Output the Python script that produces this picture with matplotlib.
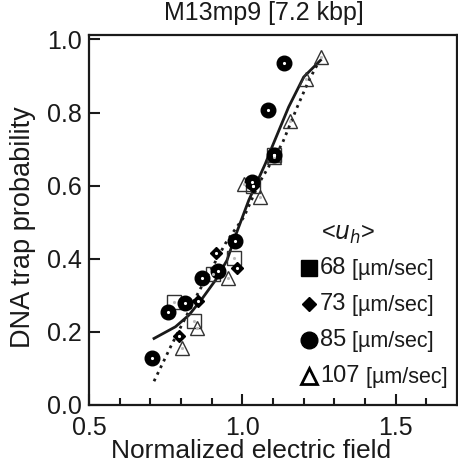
"""DNA trap probability vs normalized electric field for M13mp9."""

import matplotlib.pyplot as plt
import numpy as np

plt.rcParams["font.family"] = ["Liberation Sans", "DejaVu Sans"]

# Measured points, one set per flow speed <u_h>
sq_x = [0.777, 0.842, 0.904, 0.972, 1.035, 1.103]
sq_y = [0.282, 0.230, 0.358, 0.401, 0.600, 0.683]

dia_x = [0.795, 0.856, 0.915, 0.981, 1.035, 1.103]
dia_y = [0.189, 0.285, 0.417, 0.374, 0.600, 0.685]

circ_x = [0.704, 0.758, 0.813, 0.867, 0.921, 0.975, 1.030, 1.103, 1.084, 1.137]
circ_y = [0.128, 0.255, 0.278, 0.346, 0.367, 0.449, 0.610, 0.683, 0.808, 0.936]

tri_x = [0.804, 0.853, 0.954, 1.005, 1.056, 1.103, 1.154, 1.206, 1.258]
tri_y = [0.155, 0.211, 0.346, 0.605, 0.569, 0.678, 0.777, 0.892, 0.951]

# Fitted curves
fit_x = [0.712, 0.782, 0.826, 0.869, 0.913, 0.950, 0.978, 1.021, 1.075, 1.097, 1.151, 1.200, 1.255]
fit_y = [0.182, 0.214, 0.246, 0.291, 0.342, 0.396, 0.464, 0.560, 0.660, 0.706, 0.815, 0.897, 0.943]

lin_x = [0.712, 0.766, 0.858, 0.945, 0.967, 1.005, 1.054, 1.130, 1.179, 1.217, 1.249]
lin_y = [0.065, 0.159, 0.310, 0.442, 0.469, 0.514, 0.606, 0.715, 0.815, 0.888, 0.938]

speeds = ["68", "73", "85", "107"]

ink = "#1a1a1a"

fig = plt.figure(figsize=(4.58, 4.70), dpi=100)
ax = fig.add_axes([89 / 458, 65 / 470, 368 / 458, 370 / 470])

# Curves first, markers on top
ax.plot(fit_x, fit_y, "-", color=ink, lw=2.0, zorder=2)
ax.plot(lin_x, lin_y, ":", color=ink, lw=2.0, zorder=2)

ax.plot(sq_x, sq_y, "s", ms=9.5, mfc="none", mec="#333333", mew=1.0, zorder=3)
ax.plot(tri_x, tri_y, "^", ms=10, mfc="none", mec="#333333", mew=1.0, zorder=3)
ax.plot(dia_x, dia_y, "D", ms=6.5, color="black", zorder=4)
ax.plot(circ_x, circ_y, "o", ms=10.5, color="black", zorder=4)

# Small centre dots the original software draws on each symbol
ax.plot(sq_x, sq_y, ".", ms=2.5, color="#bbbbbb", zorder=5)
ax.plot(tri_x, tri_y, ".", ms=2.5, color="#bbbbbb", zorder=5)
ax.plot(dia_x, dia_y, ".", ms=2.5, color="white", zorder=5)
ax.plot(circ_x, circ_y, ".", ms=2.5, color="white", zorder=5)

ax.set_xlim(0.5, 1.7)
ax.set_ylim(0.0, 1.012)
ax.set_xticks([0.5, 1.0, 1.5])
ax.set_xticks(np.arange(0.6, 1.7, 0.1), minor=True)
ax.set_xticklabels(["0.5", "1.0", "1.5"])
ax.set_yticks([0.0, 0.2, 0.4, 0.6, 0.8, 1.0])
ax.set_yticklabels(["0.0", "0.2", "0.4", "0.6", "0.8", "1.0"])
ax.tick_params(which="major", direction="in", length=8, width=1.5,
               labelsize=18, colors=ink)
ax.tick_params(axis="x", which="major", pad=8)
ax.tick_params(axis="y", which="major", pad=5)
ax.tick_params(which="minor", direction="in", length=5, width=1.5, colors=ink)
for s in ax.spines.values():
    s.set_linewidth(1.6)
    s.set_color(ink)

ax.set_xlabel("Normalized electric field", fontsize=19, color=ink)
ax.set_ylabel("DNA trap probability", fontsize=19.5, color=ink)
ax.xaxis.set_label_coords(0.44, -0.092)
ax.yaxis.set_label_coords(-0.145, 0.481)
ax.set_title("M13mp9 [7.2 kbp]", fontsize=18, color=ink, pad=11, x=0.475)

# Hand-made legend
tr = ax.transAxes
ax.text(0.63, 0.46, r"<$u_h$>", transform=tr, fontsize=17, color=ink,
        ha="left", va="center")
legend_markers = [
    dict(marker="s", ms=11, mfc="black", mec="black"),
    dict(marker="D", ms=7, mfc="black", mec="black"),
    dict(marker="o", ms=12, mfc="black", mec="black"),
    dict(marker="^", ms=12, mfc="none", mec="black", mew=2.0),
]
row_y = [0.369, 0.272, 0.175, 0.078]
for spd, mk, yy in zip(speeds, legend_markers, row_y):
    ax.plot([0.597], [yy], transform=tr, ls="none", clip_on=False, **mk)
    t = ax.text(0.628, yy, spd, transform=tr, fontsize=17, color=ink,
                ha="left", va="center")
    ax.annotate(" [µm/sec]", xycoords=t, xy=(1, 0.45), fontsize=15.5,
                color=ink, ha="left", va="center")

fig.savefig("out.png", dpi=100)
